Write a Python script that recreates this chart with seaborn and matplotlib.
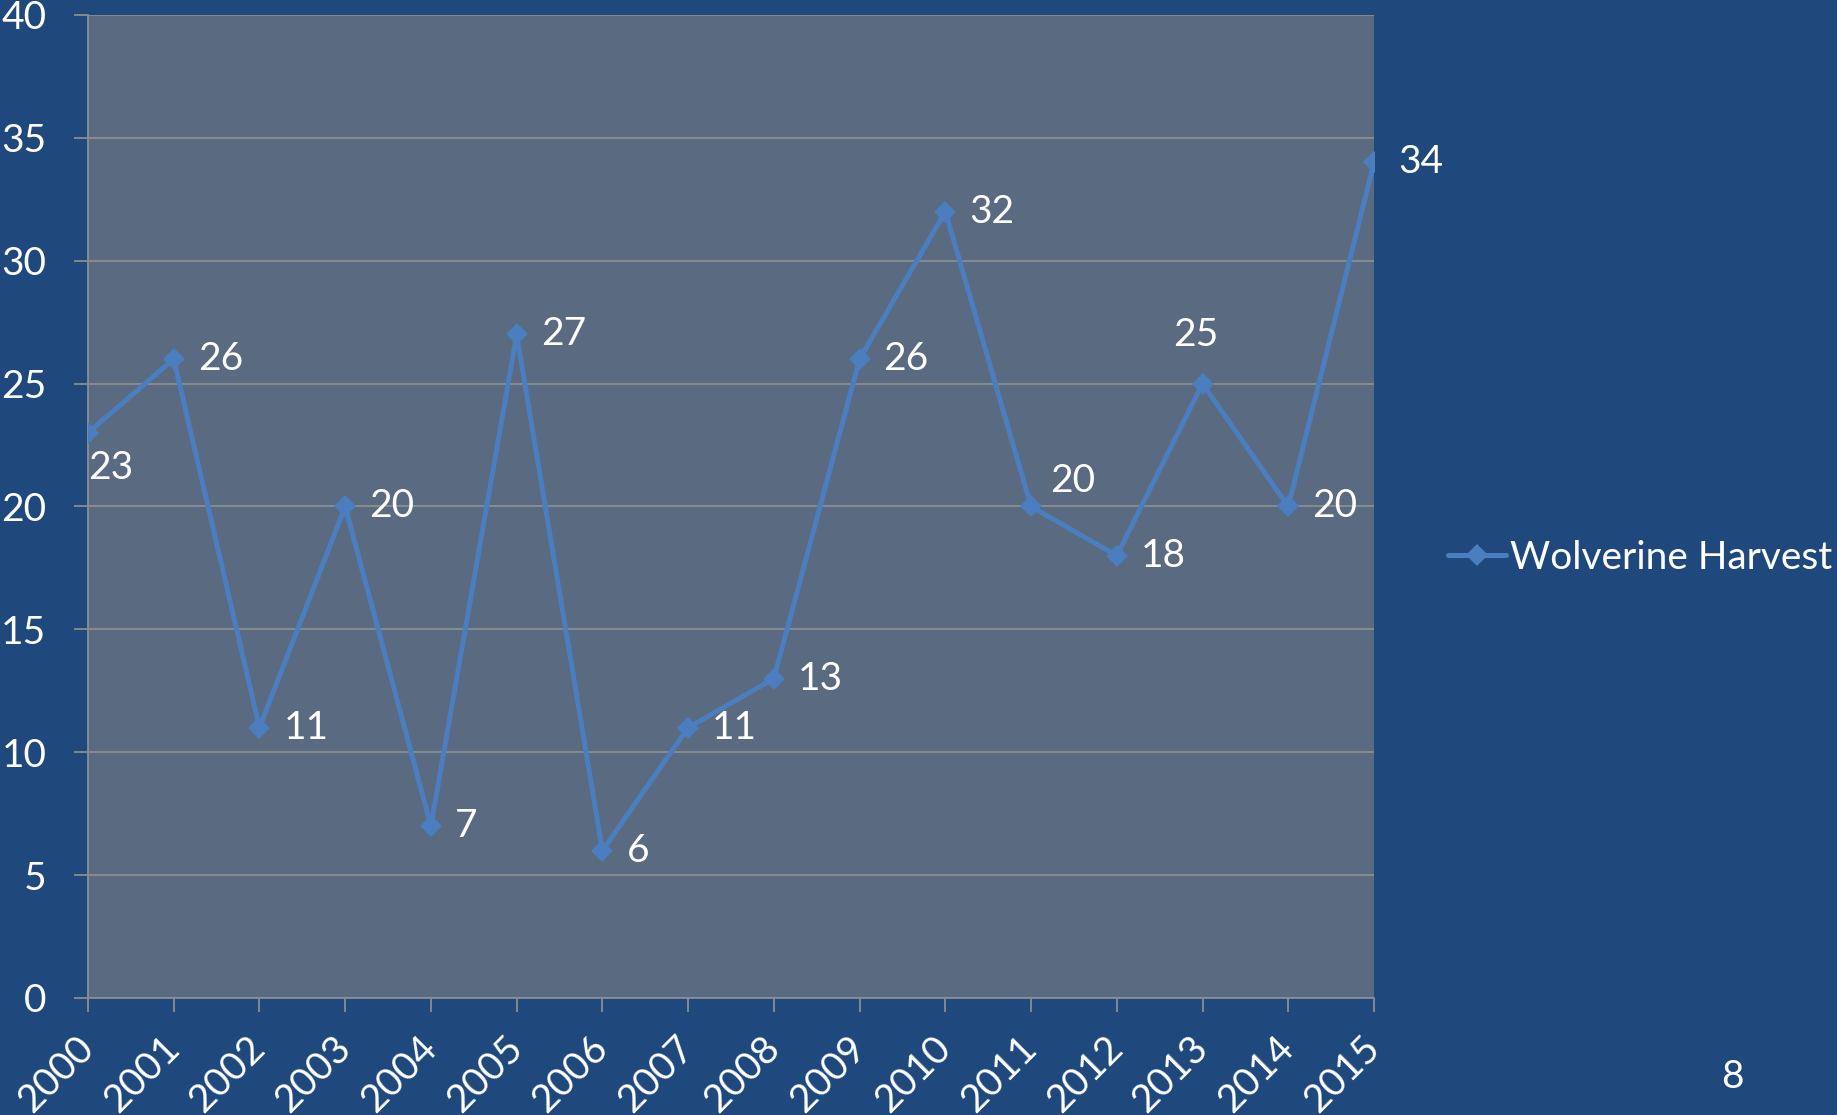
import numpy as np
import pandas as pd
import matplotlib
matplotlib.use("Agg")
import matplotlib.pyplot as plt
import seaborn as sns

# du lieu doc tu hinh
years = ["2000", "2001", "2002", "2003", "2004", "2005", "2006", "2007",
         "2008", "2009", "2010", "2011", "2012", "2013", "2014", "2015"]
harvest = [23, 26, 11, 20, 7, 27, 6, 11, 13, 26, 32, 20, 18, 25, 20, 34]
series_name = "Wolverine Harvest"
y_ticks = [0, 5, 10, 15, 20, 25, 30, 35, 40]

bg = "#1F497D"
plot_bg = "#5A6A80"
line_col = "#4A7EBE"
grid_col = "#8A8D92"

sns.set_theme(style="white")
plt.rcParams["font.family"] = ["Lato", "DejaVu Sans"]

df = pd.DataFrame({"idx": np.arange(len(years)), "val": harvest})

fig = plt.figure(figsize=(18.37, 11.15), dpi=100, facecolor=bg)
ax = fig.add_axes([88 / 1837, 1 - 998 / 1115, (1374 - 88) / 1837, (998 - 15) / 1115])
ax.set_facecolor(plot_bg)

sns.lineplot(data=df, x="idx", y="val", ax=ax, color=line_col, linewidth=3.6,
             marker="D", markersize=11, markeredgewidth=0, label=series_name,
             legend=False, zorder=3)

ax.set_xlim(0, len(years) - 1)
ax.set_ylim(0, 40)
ax.set_yticks(y_ticks)
ax.set_xticks(df["idx"])
ax.set_xticklabels(years, rotation=45, ha="right", va="center", rotation_mode="anchor")
ax.set_xlabel("")
ax.set_ylabel("")

for y in y_ticks:
    ax.axhline(y, color=grid_col, lw=1.3, zorder=1)
for s in ["top", "right"]:
    ax.spines[s].set_visible(False)
for s in ["left", "bottom"]:
    ax.spines[s].set_color(grid_col)
    ax.spines[s].set_linewidth(1.3)

ax.tick_params(axis="both", colors="white", labelsize=28, length=10, width=1.3,
               color=grid_col, direction="out")
ax.tick_params(axis="y", pad=20)
ax.tick_params(axis="x", pad=22)
ax.yaxis.set_ticks_position("left")
ax.xaxis.set_ticks_position("bottom")

# nhan du lieu
offsets = {0: (23, -35, "center"), 11: (19, 25, "left"), 13: (-7, 49, "center")}
for i, v in enumerate(harvest):
    dx, dy, ha = offsets.get(i, (24, 0, "left"))
    ax.annotate(str(v), (i, v), xytext=(dx, dy), textcoords="offset pixels",
                ha=ha, va="center", color="white", fontsize=28, zorder=4)

leg = fig.legend(loc="center left", bbox_to_anchor=(1448 / 1837, 1 - 558 / 1115),
                 frameon=False, fontsize=28, handlelength=1.5, handletextpad=0.1,
                 borderpad=0, borderaxespad=0)
for t in leg.get_texts():
    t.set_color("white")

fig.text(1732 / 1837, 1 - 1077 / 1115, "8", color="white", fontsize=28,
         ha="center", va="center")

fig.savefig("out.png", dpi=100, facecolor=bg)
